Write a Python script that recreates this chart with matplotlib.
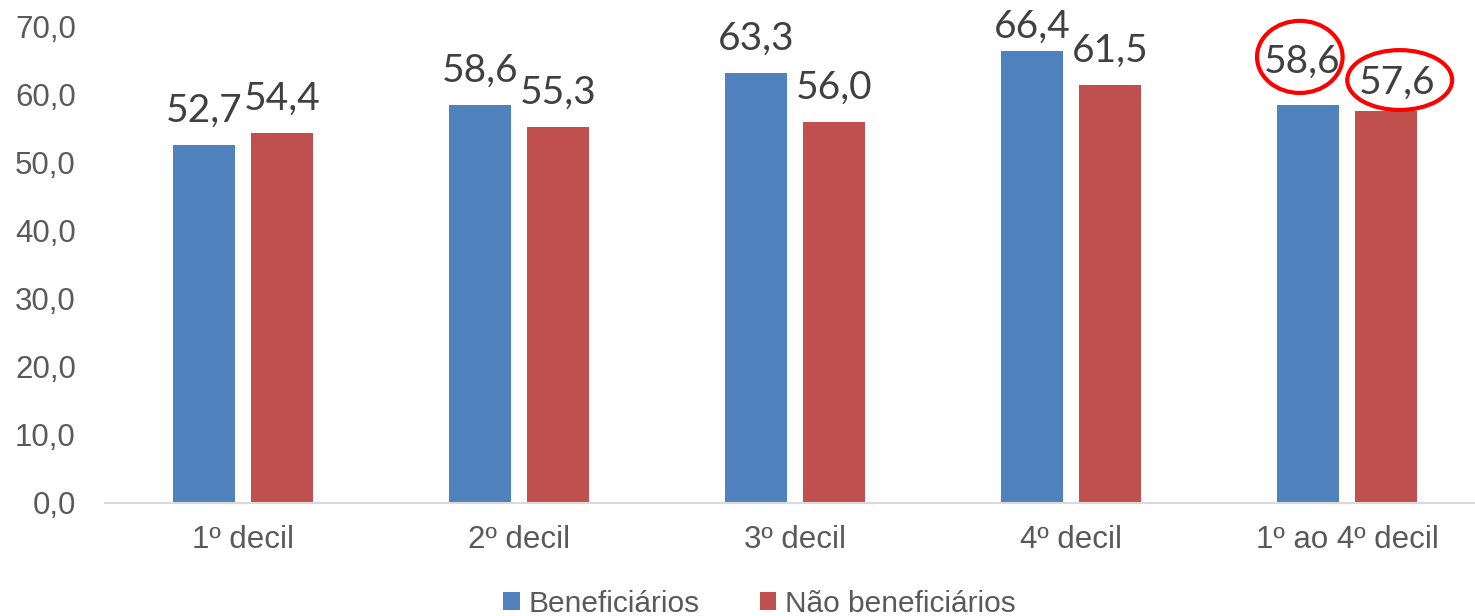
import numpy as np
import matplotlib.pyplot as plt
from matplotlib.patches import Ellipse

categorias = ['1º decil', '2º decil', '3º decil', '4º decil', '1º ao 4º decil']
beneficiarios = [52.7, 58.6, 63.3, 66.4, 58.6]
nao_beneficiarios = [54.4, 55.3, 56.0, 61.5, 57.6]
series = ['Beneficiários', 'Não beneficiários']
yticks = [0, 10, 20, 30, 40, 50, 60, 70]

azul = '#4F81BD'
vermelho = '#C0504D'

fig = plt.figure(figsize=(14.75, 6.16), dpi=100)
ax = fig.add_axes([105/1475, 1-503/616, 1380/1475, 476/616])

x = np.arange(len(categorias))
w = 0.225
off = 0.141
b1 = ax.bar(x - off, beneficiarios, w, color=azul, label=series[0])
b2 = ax.bar(x + off, nao_beneficiarios, w, color=vermelho, label=series[1])

ax.set_xlim(-0.5, len(categorias) - 0.5)
ax.set_ylim(0, 70)

fmt = lambda v: f'{v:.1f}'.replace('.', ',')
H = fig.get_figheight() * fig.dpi
# rotulos do ultimo grupo foram arrastados a mao no original (dx, dy em px)
ajuste = {(0, 4): (-6, 32), (1, 4): (11, 18)}
# rotulos acima das barras, empurrados para baixo se sairem da figura (como no Excel)
for k, bars in enumerate((b1, b2)):
    for i, b in enumerate(bars):
        v = b.get_height()
        xc = b.get_x() + b.get_width() / 2
        topo = H - ax.transData.transform((xc, v))[1]   # pixels a partir do topo
        dx, dy = ajuste.get((k, i), (0, min(23, topo - 38)))
        ax.annotate(fmt(v), (xc, v), xytext=(dx * 72 / fig.dpi, dy * 72 / fig.dpi),
                    textcoords='offset points', ha='center', va='baseline',
                    fontsize=28, color='#404040', family='Lato',
                    annotation_clip=False)

# destaque nos valores do ultimo grupo
ax.add_patch(Ellipse((x[-1] - off - 0.03, beneficiarios[-1] + 7.0), 0.31, 10.6,
                     fill=False, ec='red', lw=3, clip_on=False))
ax.add_patch(Ellipse((x[-1] + off + 0.05, nao_beneficiarios[-1] + 4.6), 0.38, 8.8,
                     fill=False, ec='red', lw=3, clip_on=False))

ax.set_yticks(yticks)
ax.set_yticklabels([fmt(v) for v in yticks])
ax.set_xticks(x)
ax.set_xticklabels(categorias)
ax.tick_params(axis='y', length=0, pad=21, labelsize=22.5, labelcolor='#595959')
ax.tick_params(axis='x', length=0, pad=16, labelsize=22.5, labelcolor='#595959')
for lab in ax.get_xticklabels() + ax.get_yticklabels():
    lab.set_family('Liberation Sans')
for s in ['top', 'right', 'left']:
    ax.spines[s].set_visible(False)
ax.spines['bottom'].set_color('#d9d9d9')
ax.spines['bottom'].set_linewidth(1.5)

fig.legend(loc='center', bbox_to_anchor=(0.515, 0.02), ncol=2, frameon=False,
           prop={'family': 'Liberation Sans', 'size': 21.5}, labelcolor='#595959',
           handlelength=0.55, handleheight=0.55, handletextpad=0.3, columnspacing=2.0)

fig.savefig('out.png', dpi=100)
